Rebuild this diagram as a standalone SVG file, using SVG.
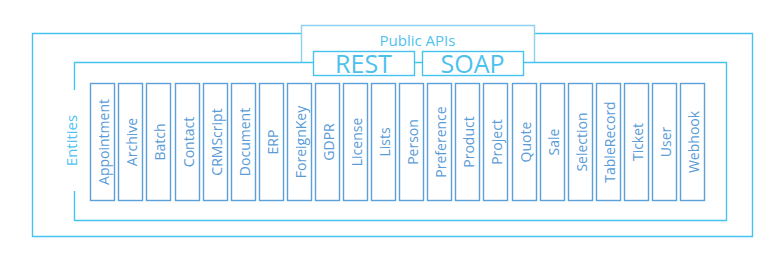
<svg xmlns="http://www.w3.org/2000/svg" width="781" height="268" viewBox="0 0 781 268">
<style>
.frame{fill:none;stroke:#46c2ee;stroke-width:1.4}
.pub{fill:none;stroke:#8dd0ef;stroke-width:1.4}
.api{fill:#ffffff;stroke:#46c2ee;stroke-width:1.4}
.api-t{font-family:"Open Sans","Noto Sans",sans-serif;font-size:25px;fill:#4cc1ee;text-anchor:middle}
.lbl{font-family:"Open Sans","Noto Sans",sans-serif;font-size:15px;fill:#4fc3f0;text-anchor:middle}
.ent{fill:#ffffff;stroke:#5ba0db;stroke-width:1.4}
.ent-t{font-family:"Open Sans","Noto Sans",sans-serif;font-size:14px;fill:#5a9cd8;text-anchor:middle}
</style>
<rect width="781" height="268" fill="#ffffff"/>
<g id="frames">
<path class="frame" d="M301.5,33.5 H32.5 V236.5 H752.5 V33.5 H534.5"/>
<path class="pub" d="M301.5,62.5 V25.5 H534.5 V62.5"/>
<path class="frame" d="M74.5,90 V62.5 H313.5 M414.5,62.5 H422.5 M523.5,62.5 H726.5 V220.5 H74.5 V191"/>
</g>
<g id="connectors"/>
<g id="public-apis">
<text class="lbl" x="417.5" y="46">Public APIs</text>
</g>
<g id="rest">
<rect class="api" x="313.5" y="51.5" width="101" height="24"/>
<text class="api-t" x="363.5" y="72.5">REST</text>
</g>
<g id="soap">
<rect class="api" x="422.5" y="51.5" width="101" height="24"/>
<text class="api-t" x="472.5" y="72.5">SOAP</text>
</g>
<g id="entities">
<text class="lbl" transform="translate(77,140.5) rotate(-90)">Entities</text>
</g>
<g id="e-appointment"><rect class="ent" x="90.5" y="83.5" width="24" height="117"/><text class="ent-t" transform="translate(108.5,142) rotate(-90)">Appointment</text></g>
<g id="e-archive"><rect class="ent" x="118.5" y="83.5" width="24" height="117"/><text class="ent-t" transform="translate(136.5,142) rotate(-90)">Archive</text></g>
<g id="e-batch"><rect class="ent" x="146.5" y="83.5" width="24" height="117"/><text class="ent-t" transform="translate(164.5,142) rotate(-90)">Batch</text></g>
<g id="e-contact"><rect class="ent" x="175.5" y="83.5" width="24" height="117"/><text class="ent-t" transform="translate(193.5,142) rotate(-90)">Contact</text></g>
<g id="e-crmscript"><rect class="ent" x="203.5" y="83.5" width="24" height="117"/><text class="ent-t" transform="translate(221.5,142) rotate(-90)">CRMScript</text></g>
<g id="e-document"><rect class="ent" x="231.5" y="83.5" width="24" height="117"/><text class="ent-t" transform="translate(249.5,142) rotate(-90)">Document</text></g>
<g id="e-erp"><rect class="ent" x="259.5" y="83.5" width="24" height="117"/><text class="ent-t" transform="translate(277.5,142) rotate(-90)">ERP</text></g>
<g id="e-foreignkey"><rect class="ent" x="287.5" y="83.5" width="24" height="117"/><text class="ent-t" transform="translate(305.5,142) rotate(-90)">ForeignKey</text></g>
<g id="e-gdpr"><rect class="ent" x="315.5" y="83.5" width="24" height="117"/><text class="ent-t" transform="translate(333.5,142) rotate(-90)">GDPR</text></g>
<g id="e-license"><rect class="ent" x="343.5" y="83.5" width="24" height="117"/><text class="ent-t" transform="translate(361.5,142) rotate(-90)">License</text></g>
<g id="e-lists"><rect class="ent" x="371.5" y="83.5" width="24" height="117"/><text class="ent-t" transform="translate(389.5,142) rotate(-90)">Lists</text></g>
<g id="e-person"><rect class="ent" x="399.5" y="83.5" width="24" height="117"/><text class="ent-t" transform="translate(417.5,142) rotate(-90)">Person</text></g>
<g id="e-preference"><rect class="ent" x="427.5" y="83.5" width="24" height="117"/><text class="ent-t" transform="translate(445.5,142) rotate(-90)">Preference</text></g>
<g id="e-product"><rect class="ent" x="455.5" y="83.5" width="24" height="117"/><text class="ent-t" transform="translate(473.5,142) rotate(-90)">Product</text></g>
<g id="e-project"><rect class="ent" x="483.5" y="83.5" width="24" height="117"/><text class="ent-t" transform="translate(501.5,142) rotate(-90)">Project</text></g>
<g id="e-quote"><rect class="ent" x="512.5" y="83.5" width="24" height="117"/><text class="ent-t" transform="translate(530.5,142) rotate(-90)">Quote</text></g>
<g id="e-sale"><rect class="ent" x="540.5" y="83.5" width="24" height="117"/><text class="ent-t" transform="translate(558.5,142) rotate(-90)">Sale</text></g>
<g id="e-selection"><rect class="ent" x="568.5" y="83.5" width="24" height="117"/><text class="ent-t" transform="translate(586.5,142) rotate(-90)">Selection</text></g>
<g id="e-tablerecord"><rect class="ent" x="596.5" y="83.5" width="24" height="117"/><text class="ent-t" transform="translate(614.5,142) rotate(-90)">TableRecord</text></g>
<g id="e-ticket"><rect class="ent" x="624.5" y="83.5" width="24" height="117"/><text class="ent-t" transform="translate(642.5,142) rotate(-90)">Ticket</text></g>
<g id="e-user"><rect class="ent" x="652.5" y="83.5" width="24" height="117"/><text class="ent-t" transform="translate(670.5,142) rotate(-90)">User</text></g>
<g id="e-webhook"><rect class="ent" x="680.5" y="83.5" width="24" height="117"/><text class="ent-t" transform="translate(698.5,142) rotate(-90)">Webhook</text></g>
</svg>
